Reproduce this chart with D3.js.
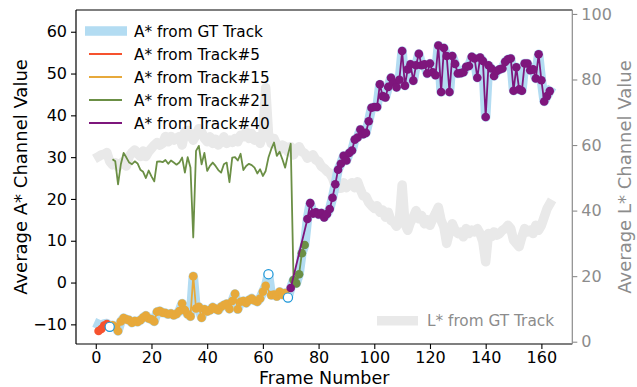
<!DOCTYPE html>
<html>
<head>
<meta charset="utf-8">
<script src="https://cdn.jsdelivr.net/npm/d3@7"></script>
<style>
  body { margin: 0; background: #fff; }
  svg { display: block; font-family: "DejaVu Sans", sans-serif; }
</style>
</head>
<body>
<svg id="chart" width="637" height="387"></svg>
<script>
// ground truth A* per frame, frames 1..163
const gtStart = 1;
const gtA = [
  -10.0, -10.3, -9.9, -9.8, -10.6,
  -10.2, -10.6, -11.6, -9.3, -8.5, -8.8, -9.0, -9.6, -9.2, -9.4,
  -9.0, -8.4, -7.9, -8.6, -8.8, -9.3, -7.0, -6.8, -7.2, -7.3,
  -7.6, -7.4, -7.8, -7.5, -6.8, -5.0, -6.6, -7.6, -8.1, 1.5,
  -6.2, -5.8, -8.4, -6.4, -6.9, -6.6, -5.9, -6.3, -6.6, -5.8,
  -5.4, -5.1, -6.3, -4.4, -2.7, -6.4, -4.6, -4.4, -4.9, -4.2,
  -3.8, -4.3, -4.6, -3.8, -2.2, -0.8, 2.0, -3.0, -2.9, -3.3,
  -2.2, -2.9, -2.5, -3.6, -1.3, 0.6, -0.2, 2.0, 7.0, 9.0,
  15.2, 19.0, 16.5, 16.8, 16.3, 16.6, 15.6, 16.4, 17.6, 20.3,
  23.5, 27.0, 28.4, 30.3, 29.2, 31.0, 31.6, 34.2, 34.7, 36.6,
  35.5, 35.8, 38.6, 41.8, 42.0, 42.0, 47.4, 44.6, 44.3, 46.8,
  49.0, 47.8, 46.7, 48.5, 55.4, 47.1, 51.0, 52.2, 48.3, 52.0,
  54.7, 52.0, 52.2, 50.0, 52.4, 50.3, 49.6, 56.7, 45.6, 56.1,
  54.2, 45.6, 54.2, 52.3, 50.0, 50.1, 50.3, 51.6, 51.8, 54.0,
  53.6, 49.0, 53.8, 53.0, 39.6, 52.0, 51.2, 49.4, 50.6, 51.0,
  51.2, 52.8, 53.4, 53.6, 45.9, 51.5, 46.2, 45.9, 52.4, 52.4,
  50.8, 51.0, 48.8, 54.6, 48.4, 43.3, 44.6, 45.8
];

// ground truth L* per frame, frames 1..163 (right axis)
const gtL = [
  56.5, 57.0, 57.2, 57.7, 55.0, 54.0, 54.6, 53.4, 54.4, 55.0,
  53.6, 56.5, 57.7, 58.5, 57.4, 56.5, 58.2, 56.5, 58.0, 59.0,
  60.0, 60.7, 60.0, 60.5, 62.6, 61.0, 62.6, 61.5, 62.1, 62.6,
  60.0, 64.1, 64.5, 63.0, 61.5, 63.0, 65.0, 64.0, 62.0, 61.0,
  62.5, 60.5, 61.8, 60.0, 61.0, 62.5, 60.5, 61.5, 60.8, 62.0,
  61.0, 63.0, 62.5, 64.0, 62.0, 63.5, 61.5, 62.5, 60.5, 63.0,
  77.5, 63.5, 60.5, 62.0, 60.0, 58.5, 60.0, 59.5, 58.0, 59.5,
  57.0, 58.5, 59.5, 58.0, 57.5, 56.0, 56.5, 57.0, 55.5, 55.0,
  53.5, 52.9, 52.0, 51.4, 50.0, 47.5, 46.8, 46.8, 48.5, 47.0,
  47.8, 48.5, 47.0, 48.8, 46.5, 44.5, 44.3, 42.5, 41.5, 40.7,
  41.5, 39.5, 40.2, 38.0, 39.5, 37.0, 36.5, 35.2, 37.0, 47.8,
  36.0, 34.0, 36.5, 38.0, 40.0, 37.5, 38.5, 36.0, 37.2, 35.5,
  37.5, 39.2, 41.0, 37.0, 35.0, 30.0, 33.5, 36.0, 34.0, 33.0,
  33.5, 32.0, 34.5, 33.0, 34.0, 33.5, 34.5, 33.0, 30.5, 24.4,
  33.0, 32.0, 33.5, 32.5, 33.0, 34.0, 34.5, 35.5, 34.5, 31.0,
  30.0, 29.0, 32.0, 34.5, 33.5, 34.0, 33.0, 35.5, 34.0, 35.5,
  38.0, 40.5, 42.0
];

// tracks (null = no value on that frame)
const track5Start = 1;
const track5 = [-11.6, -11.1, -10.3, -9.9];

const track15Start = 6;
const track15 = [
  -10.2, -10.6, -11.6, -9.3, -8.5, -8.8, -9.0, -9.6, -9.2, -9.4,
  -9.0, -8.4, -7.9, -8.6, -8.8, -9.3, -7.0, -6.8, -7.2, -7.3,
  -7.6, -7.4, -7.8, -7.5, -6.8, -5.0, -6.6, -7.6, -8.1, 1.5,
  -6.2, -5.8, -8.4, -6.4, -6.9, -6.6, -5.9, -6.3, -6.6, -5.8,
  -5.4, -5.1, -6.3, -4.4, -2.7, -6.4, -4.6, -4.4, -4.9, -4.2,
  -3.8, -4.3, -4.6, -3.8, -2.2, -0.8, null, -3.0, -2.9, -3.3,
  -2.2, -2.9, -2.5
];

const track21Start = 6;
const track21MarkFrom = 71;
const track21 = [
  29.5, 29.0, 23.5, 28.3, 31.0, 29.9, 28.7, 28.3, 29.0, 28.5,
  27.0, 26.5, 25.0, 26.8, 25.4, 24.2, 28.9, 29.0, 28.8, 29.3,
  28.4, 29.2, 28.7, 28.2, 28.7, 29.9, 26.3, 30.0, 27.5, 10.8,
  31.5, 32.7, 28.3, 31.0, 26.7, 27.9, 28.7, 27.9, 26.9, 26.3,
  28.3, 28.7, 24.0, 29.9, 30.0, 29.2, 30.8, 26.9, 27.9, 28.4,
  28.1, 27.5, 26.1, 27.1, 25.5, 26.7, 29.9, 31.9, 33.5, 30.3,
  31.3, 29.5, 27.5, 30.6, 33.2, 0.6, -0.2, 2.0, 7.0, 9.0
];

const track40Start = 70;
const track40 = [
  -1.3, null, null, null, null, null,
  15.2, 19.0, 16.5, 16.8, 16.3, 16.6, 15.6, 16.4, 17.6, 20.3,
  23.5, 27.0, 28.4, 30.3, 29.2, 31.0, 31.6, 34.2, 34.7, 36.6,
  35.5, 35.8, 38.6, 41.8, 42.0, 42.0, 47.4, 44.6, 44.3, 46.8,
  49.0, 47.8, 46.7, 48.5, 55.4, 47.1, 51.0, 52.2, 48.3, 52.0,
  54.7, 52.0, 52.2, 50.0, 52.4, 50.3, 49.6, 56.7, 45.6, 56.1,
  54.2, 45.6, 54.2, 52.3, 50.0, 50.1, 50.3, 51.6, 51.8, 54.0,
  53.6, 49.0, 53.8, 53.0, 39.6, 52.0, 51.2, 49.4, 50.6, 51.0,
  51.2, 52.8, 53.4, 53.6, 45.9, 51.5, 46.2, 45.9, 52.4, 52.4,
  50.8, 51.0, 48.8, 54.6, 48.4, 43.3, 44.6, 45.8
];

// GT frames without any matched track
const missingFrames = [5, 62, 69];

const xTicks = [0, 20, 40, 60, 80, 100, 120, 140, 160];
const yLTicks = [-10, 0, 10, 20, 30, 40, 50, 60];
const yRTicks = [0, 20, 40, 60, 80, 100];

const legendNames = ["A* from GT Track", "A* from Track#5", "A* from Track#15", "A* from Track#21", "A* from Track#40"];
const legendL = "L* from GT Track";

const C = {
  gt: "#b3dcf2", gtL: "#e9e9e9", miss: "#1f97d8",
  t5: "#f6522e", t15: "#e7a93b", t21: "#6b8f45", t40: "#7e167c", grey: "#8c8c8c"
};

const svg = d3.select("#chart");
const mL = 76, mR = 572.3, mT = 10, mB = 344;

const x = d3.scaleLinear().domain([-7.1, 171.1]).range([mL, mR]);
const yL = d3.scaleLinear().domain([-14.7, 65.2]).range([mB, mT]);
const yR = d3.scaleLinear().domain([-0.7, 101.2]).range([mB, mT]);

function toPts(vals, start) {
  return vals.map((v, i) => ({ f: start + i, v: v })).filter(d => d.v !== null);
}

const lineL = d3.line().x(d => x(d.f)).y(d => yL(d.v));
const lineR = d3.line().x(d => x(d.f)).y(d => yR(d.v));

const plot = svg.append("g");

// L* ground truth (behind)
plot.append("path").datum(toPts(gtL, gtStart))
  .attr("d", lineR).attr("fill", "none")
  .attr("stroke", C.gtL).attr("stroke-width", 9.5)
  .attr("stroke-linejoin", "round").attr("stroke-linecap", "square");

// A* ground truth band
const gtPts = toPts(gtA, gtStart);
plot.append("path").datum(gtPts)
  .attr("d", lineL).attr("fill", "none")
  .attr("stroke", C.gt).attr("stroke-width", 9.5)
  .attr("stroke-linejoin", "round").attr("stroke-linecap", "square");

function drawTrack(vals, start, color, markFrom) {
  const pts = toPts(vals, start);
  plot.append("path").datum(pts)
    .attr("d", lineL).attr("fill", "none")
    .attr("stroke", color).attr("stroke-width", 1.8)
    .attr("stroke-linejoin", "round");
  plot.append("g").selectAll("circle")
    .data(pts.filter(d => d.f >= markFrom))
    .join("circle")
    .attr("cx", d => x(d.f)).attr("cy", d => yL(d.v))
    .attr("r", 4.3).attr("fill", color);
}

drawTrack(track5, track5Start, C.t5, 0);
drawTrack(track15, track15Start, C.t15, 0);

// hollow markers: GT frames with no track
plot.append("g").selectAll("circle")
  .data(gtPts.filter(d => missingFrames.includes(d.f)))
  .join("circle")
  .attr("cx", d => x(d.f)).attr("cy", d => yL(d.v))
  .attr("r", 4.6).attr("fill", "#fff")
  .attr("stroke", C.miss).attr("stroke-width", 1.2);

drawTrack(track21, track21Start, C.t21, track21MarkFrom);
drawTrack(track40, track40Start, C.t40, 0);

// axes
const fs = 16;
const gx = svg.append("g").attr("transform", `translate(0,${mB})`)
  .call(d3.axisBottom(x).tickValues(xTicks).tickSizeOuter(0).tickSize(5).tickPadding(3));
const gl = svg.append("g").attr("transform", `translate(${mL},0)`)
  .call(d3.axisLeft(yL).tickValues(yLTicks).tickSizeOuter(0).tickSize(5).tickPadding(4)
    .tickFormat(d => d < 0 ? "\u2212" + Math.abs(d) : d));
const gr = svg.append("g").attr("transform", `translate(${mR},0)`)
  .call(d3.axisRight(yR).tickValues(yRTicks).tickSizeOuter(0).tickSize(5).tickPadding(4));

[gx, gl, gr].forEach(g => {
  g.selectAll("text").attr("font-size", fs).attr("font-family", "DejaVu Sans").attr("fill", "#000");
  g.selectAll("line").attr("stroke", "#000").attr("stroke-width", 1.1);
  g.select(".domain").remove();
});
gr.selectAll("text").attr("fill", C.grey);
gr.selectAll("line").attr("stroke", C.grey);

// spines
svg.append("line").attr("x1", mL).attr("x2", mR).attr("y1", mT).attr("y2", mT)
  .attr("stroke", "#000").attr("stroke-width", 1.2);
svg.append("line").attr("x1", mL).attr("x2", mR).attr("y1", mB).attr("y2", mB)
  .attr("stroke", "#000").attr("stroke-width", 1.2);
svg.append("line").attr("x1", mL).attr("x2", mL).attr("y1", mT).attr("y2", mB)
  .attr("stroke", "#000").attr("stroke-width", 1.2);
svg.append("line").attr("x1", mR).attr("x2", mR).attr("y1", mT).attr("y2", mB)
  .attr("stroke", C.grey).attr("stroke-width", 1.2);

// axis titles
svg.append("text").attr("x", (mL + mR) / 2).attr("y", 384)
  .attr("text-anchor", "middle").attr("font-size", 17.5).text("Frame Number");
svg.append("text").attr("transform", `translate(27,${(mT + mB) / 2}) rotate(-90)`)
  .attr("text-anchor", "middle").attr("font-size", 18).text("Average A* Channel Value");
svg.append("text").attr("transform", `translate(631,${(mT + mB) / 2}) rotate(-90)`)
  .attr("text-anchor", "middle").attr("font-size", 18).attr("fill", C.grey)
  .text("Average L* Channel Value");

// legend (A*)
const lfs = 15.3;
const legColors = [C.gt, C.t5, C.t15, C.t21, C.t40];
const leg = svg.append("g");
legendNames.forEach((name, i) => {
  const cy = 31 + i * 23;
  if (i === 0) {
    leg.append("rect").attr("x", 85).attr("y", cy - 4.75).attr("width", 42).attr("height", 9.5).attr("fill", legColors[i]);
  } else {
    leg.append("line").attr("x1", 89).attr("x2", 122).attr("y1", cy).attr("y2", cy)
      .attr("stroke", legColors[i]).attr("stroke-width", 1.8);
  }
  leg.append("text").attr("x", 134).attr("y", cy + 5.5).attr("font-size", lfs).text(name);
});

// legend (L*)
svg.append("rect").attr("x", 377).attr("y", 316).attr("width", 41).attr("height", 9.5).attr("fill", C.gtL);
svg.append("text").attr("x", 427).attr("y", 326.3).attr("font-size", lfs).attr("fill", C.grey).text(legendL);
</script>
</body>
</html>
